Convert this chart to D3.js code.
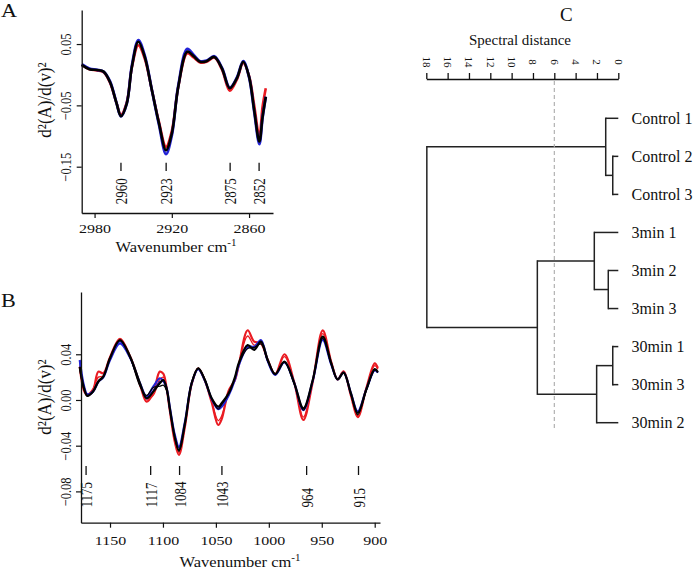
<!DOCTYPE html>
<html><head><meta charset="utf-8">
<script src="https://cdn.jsdelivr.net/npm/d3@7"></script>
<style>
body{margin:0;background:#fff;}
text{font-family:"Liberation Serif","Times New Roman",serif;fill:#111;}
</style></head>
<body><svg id="c" width="695" height="569"></svg>
<script>
// ---------- Panel A data (2990-2847 cm-1) ----------
const wnA = [2990,2984,2978,2973,2968,2963,2959.5,2955,2951,2946,2941,2935.5,2930,2924.5,2920,2915,2908,2903,2898,2893,2887,2881,2875,2869.5,2864.5,2860,2856,2852,2849.5,2847];
const redA = [0.016,0.009,0.007,0.004,-0.013,-0.046,-0.065,-0.045,0.012,0.048,0.026,-0.025,-0.077,-0.1175,-0.092,-0.02,0.0348,0.028,0.020,0.021,0.028,0.008,-0.026,-0.008,0.019,-0.002,-0.05,-0.101,-0.052,-0.022];
const blueA = [0.017,0.010,0.008,0.005,-0.011,-0.046,-0.068,-0.047,0.015,0.0565,0.031,-0.025,-0.081,-0.1295,-0.099,-0.018,0.042,0.032,0.022,0.023,0.030,0.011,-0.021,-0.005,0.022,-0.004,-0.06,-0.113,-0.07,-0.036];
const blackA = [0.016,0.009,0.0076,0.005,-0.012,-0.046,-0.0675,-0.047,0.013,0.0538,0.029,-0.025,-0.079,-0.123,-0.096,-0.02,0.0375,0.030,0.021,0.022,0.029,0.010,-0.022,-0.006,0.021,-0.003,-0.058,-0.109,-0.069,-0.036];
const ticksAx = [2980,2920,2860];
const ticksAy = [0.05,-0.05,-0.15];
const peakLabelsA = ["2960","2923","2875","2852"];
const peakPosA = [2959.5,2924.4,2874.7,2852.2];

// ---------- Panel B data (1179-897 cm-1) ----------
const wnB = [1178.6,1174.5,1171.4,1166,1161,1156.3,1150,1140.6,1131,1121.7,1115.4,1109.2,1103,1099.7,1096.5,1093.4,1088.7,1084.9,1079.2,1072.9,1066.7,1060.4,1054,1047.8,1044.6,1038,1032,1028.5,1020,1013.8,1007.5,1001,994,985.3,975.9,967.4,958.5,949.1,941,935,929.4,922.5,916,908,900,897];
const redB = [0.029,0.008,0.004,0.0085,0.0248,0.0233,0.0375,0.0534,0.038,0.0135,-0.0015,0.006,0.0248,0.023,0.010,-0.010,-0.037,-0.048,-0.023,0.014,0.0277,0.017,-0.002,-0.0219,-0.017,0.008,0.0175,0.030,0.061,0.051,0.0496,0.035,0.0225,0.040,0.015,-0.0175,0.016,0.061,0.033,0.018,0.025,0.004,-0.015,0.010,0.032,0.028];
const redB2 = [0.030,0.009,0.005,0.010,0.020,0.021,0.037,0.052,0.038,0.014,0.001,0.004,0.018,0.020,0.010,-0.009,-0.035,-0.046,-0.022,0.014,0.027,0.017,-0.001,-0.018,-0.014,0.007,0.018,0.031,0.056,0.048,0.050,0.035,0.023,0.038,0.015,-0.015,0.017,0.058,0.033,0.018,0.025,0.005,-0.014,0.010,0.030,0.027];
const blueB = [0.035,0.012,0.005,0.0075,0.016,0.020,0.035,0.0496,0.037,0.0146,0.003,0.0116,0.019,0.017,0.010,-0.007,-0.031,-0.041,-0.019,0.0146,0.027,0.017,0.001,-0.0081,-0.006,0.004,0.018,0.030,0.046,0.046,0.0525,0.034,0.022,0.033,0.0146,-0.0088,0.017,0.0525,0.031,0.018,0.024,0.006,-0.010,0.009,0.026,0.024];
const blueB2 = [0.033,0.011,0.004,0.007,0.016,0.020,0.036,0.051,0.037,0.014,0.001,0.008,0.016,0.016,0.009,-0.008,-0.032,-0.042,-0.020,0.015,0.027,0.017,0.001,-0.007,-0.004,0.005,0.019,0.031,0.047,0.047,0.051,0.034,0.022,0.033,0.014,-0.008,0.017,0.053,0.031,0.018,0.024,0.006,-0.011,0.009,0.026,0.024];
const blackB = [0.029,0.0102,0.0035,0.0073,0.016,0.0204,0.0365,0.0525,0.0379,0.0146,0.0015,0.0073,0.0146,0.0175,0.010,-0.008,-0.033,-0.0438,-0.0204,0.0146,0.0277,0.0175,0.0015,-0.0058,-0.0029,0.0058,0.020,0.032,0.048,0.0438,0.051,0.035,0.0225,0.0335,0.0146,-0.0073,0.0175,0.0554,0.032,0.018,0.024,0.0058,-0.0114,0.009,0.027,0.0245];
const blackB2 = [0.027,0.009,0.004,0.008,0.017,0.021,0.037,0.052,0.037,0.012,0.004,0.011,0.012,0.013,0.008,-0.009,-0.034,-0.045,-0.021,0.015,0.028,0.018,0.001,-0.008,-0.004,0.005,0.019,0.031,0.045,0.046,0.049,0.034,0.023,0.033,0.014,-0.009,0.017,0.054,0.031,0.018,0.024,0.005,-0.013,0.008,0.026,0.024];
const ticksBx = [1150,1100,1050,1000,950,900];
const ticksBy = [0.04,0.00,-0.04,-0.08];
const peakLabelsB = ["1175","1117","1084","1043","964","915"];
const peakPosB = [1172.6,1111.6,1084.3,1044.3,964.3,915.3];

// ---------- Panel C data (hierarchical clustering) ----------
const leafLabels = ["Control 1","Control 2","Control 3","3min 1","3min 2","3min 3","30min 1","30min 2","30min 3"];
const mergeLeft  = [-2,-7,-5,-1, 2,-4, 6, 4];
const mergeRight = [-3,-9,-6, 1,-8, 3, 5, 7];
const mergeHeight = [0.52,0.52,0.94,1.18,2.03,2.25,7.59,17.95];
const distTicks = [0,2,4,6,8,10,12,14,16,18];
const cutHeight = 6;

const colors = {red:"#ea1b22", blue:"#2323d6", black:"#000000"};
const SX = 1.23; // horizontal stretch of the original figure's text

const svg = d3.select("#c");
svg.append("rect").attr("width",695).attr("height",569).attr("fill","#fff");

function label(g, x, y, s, size, sx, rot, anchor){
  return g.append("text")
    .attr("transform", `translate(${x},${y}) scale(${sx},1) rotate(${rot})`)
    .attr("text-anchor", anchor)
    .style("font-size", size+"px")
    .text(s);
}

function spectrumPanel(cfg){
  const g = svg.append("g");
  const x = d3.scaleLinear().domain(cfg.xDomain).range(cfg.xRange);
  const y = d3.scaleLinear().domain(cfg.yDomain).range(cfg.yRange);
  const line = d3.line().x((d,i)=>x(cfg.wn[i])).y(d=>y(d)).curve(d3.curveCatmullRom.alpha(0.5));
  cfg.series.forEach(s=>{
    g.append("path").datum(s.values).attr("d", line)
      .attr("fill","none").attr("stroke", s.color).attr("stroke-width", s.w)
      .attr("stroke-linejoin","round");
  });
  const ax = g.append("g").attr("transform",`translate(0,${cfg.yRange[0]})`)
    .call(d3.axisBottom(x).tickValues(cfg.xTicks).tickSize(5).tickSizeOuter(0).tickFormat(d3.format("d")));
  ax.selectAll("text").attr("y",0).attr("dy",0)
    .attr("transform",`translate(0,${cfg.xLabOff}) scale(${SX},1)`)
    .style("font-size","13px");
  const ay = g.append("g").attr("transform",`translate(${cfg.xRange[0]},0)`)
    .call(d3.axisLeft(y).tickValues(cfg.yTicks).tickSize(5).tickSizeOuter(0).tickFormat(cfg.yFmt));
  ay.selectAll("text").attr("x",0).attr("dy",0)
    .attr("transform",`translate(-10.5,0) scale(${SX},1) rotate(-90)`)
    .attr("text-anchor","middle").style("font-size","12.5px");
  [ax,ay].forEach(a=>{
    a.select(".domain").attr("stroke","#111").attr("stroke-width",1.3);
    a.selectAll(".tick line").attr("stroke","#111").attr("stroke-width",1.2);
    a.selectAll("text").attr("fill","#111").style("font-family","Liberation Serif");
  });
  cfg.peakPos.forEach((p,i)=>{
    g.append("line").attr("x1",x(p)).attr("x2",x(p))
      .attr("y1",cfg.markY[0]).attr("y2",cfg.markY[1])
      .attr("stroke","#111").attr("stroke-width",1.3);
    label(g, x(p)+6, cfg.markTextY, cfg.peakLabels[i], 13, SX, -90, "start");
  });
  const t = g.append("text")
    .attr("transform",`translate(${cfg.xTitle[0]},${cfg.xTitle[1]}) scale(1.1,1)`)
    .attr("text-anchor","middle").style("font-size","15px");
  t.append("tspan").text("Wavenumber cm");
  t.append("tspan").attr("dy",-6).style("font-size","10px").text("-1");
  label(g, cfg.yTitle[0], cfg.yTitle[1], "d²(A)/d(v)²", 17, 1.15, -90, "middle");
  label(g, cfg.letter[0], cfg.letter[1], cfg.letterText, 18, SX, 0, "start");
}

spectrumPanel({
  wn: wnA,
  series:[{values:redA,color:colors.red,w:2.6},{values:blueA,color:colors.blue,w:2.8},{values:blackA,color:colors.black,w:2.6}],
  xDomain:[2990,2841.4], xRange:[81.7,273],
  yDomain:[-0.2255,0.1055], yRange:[213,10],
  xTicks:ticksAx, yTicks:ticksAy, yFmt:d3.format(".2f"),
  xLabOff:20, peakPos:peakPosA, peakLabels:peakLabelsA, markY:[162.7,171], markTextY:204.3,
  xTitle:[176,252], yTitle:[51,100], letter:[1,17], letterText:"A"
});

spectrumPanel({
  wn: wnB,
  series:[{values:redB2,color:colors.red,w:1.3},{values:redB,color:colors.red,w:2.2},
          {values:blueB2,color:colors.blue,w:1.3},{values:blueB,color:colors.blue,w:2.2},
          {values:blackB2,color:colors.black,w:1.2},{values:blackB,color:colors.black,w:2.2}],
  xDomain:[1177.4,895], xRange:[81,380],
  yDomain:[-0.1074,0.0945], yRange:[522.7,292],
  xTicks:ticksBx, yTicks:ticksBy, yFmt:d3.format(".2f"),
  xLabOff:22.3, peakPos:peakPosB, peakLabels:peakLabelsB, markY:[466,475], markTextY:507.5,
  xTitle:[240,567], yTitle:[51,397], letter:[1,306.7], letterText:"B"
});

// ---------- Panel C: dendrogram ----------
(function(){
  const g = svg.append("g");
  const x = d3.scaleLinear().domain([0,18]).range([618.3,426.3]);
  const y = d3.scaleLinear().domain([0,leafLabels.length-1]).range([118.3,422.7]);
  const order = [];
  const pos = {};
  function key(id){ return id<0 ? "L"+(-id) : "N"+id; }
  function visit(id){
    if(id<0){ const yi = order.length; order.push(-id-1); pos[key(id)] = {h:0, yi}; return pos[key(id)]; }
    const a = visit(mergeLeft[id-1]), b = visit(mergeRight[id-1]);
    pos[key(id)] = {h:mergeHeight[id-1], yi:(a.yi+b.yi)/2, a, b};
    return pos[key(id)];
  }
  visit(mergeHeight.length);
  const stroke = "#222";
  Object.values(pos).forEach(n=>{
    if(!n.a) return;
    g.append("line").attr("x1",x(n.h)).attr("x2",x(n.h)).attr("y1",y(n.a.yi)).attr("y2",y(n.b.yi))
      .attr("stroke",stroke).attr("stroke-width",1.5).attr("stroke-linecap","square");
    [n.a,n.b].forEach(c=>{
      g.append("line").attr("x1",x(n.h)).attr("x2",x(c.h)).attr("y1",y(c.yi)).attr("y2",y(c.yi))
        .attr("stroke",stroke).attr("stroke-width",1.5);
    });
  });
  order.forEach((li,i)=>{
    g.append("text").attr("x",631.5).attr("y",y(i)).attr("dy","0.33em")
      .style("font-size","16px").text(leafLabels[li]);
  });
  g.append("line").attr("x1",x(cutHeight)).attr("x2",x(cutHeight)).attr("y1",81).attr("y2",430)
    .attr("stroke","#aaa").attr("stroke-width",1.1).attr("stroke-dasharray","4,3");
  const ax = g.append("g").attr("transform","translate(0,79)")
    .call(d3.axisTop(x).tickValues(distTicks).tickSize(6).tickSizeOuter(0).tickFormat(d3.format("d")));
  ax.select(".domain").attr("stroke","#111").attr("stroke-width",1.4);
  ax.selectAll(".tick line").attr("stroke","#111").attr("stroke-width",1.3);
  ax.selectAll("text").attr("x",0).attr("y",0).attr("dy",0)
    .attr("transform","translate(-4,-17) rotate(90)")
    .attr("text-anchor","middle").attr("fill","#111")
    .style("font-size","11px").style("font-family","Liberation Serif");
  g.append("text").attr("x",520).attr("y",45).attr("text-anchor","middle")
    .style("font-size","15px").text("Spectral distance");
  g.append("text").attr("x",560).attr("y",21).style("font-size","19px").text("C");
})();
</script></body></html>
